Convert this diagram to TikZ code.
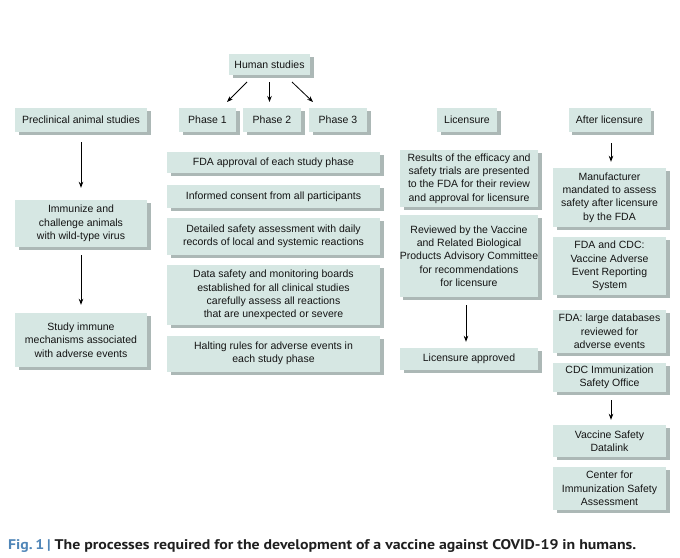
\documentclass[tikz,border=0pt]{standalone}
\usepackage{fontspec}
\usepackage{graphicx}
\setmainfont{Liberation Sans}
\newfontfamily\capfont{PT Sans}
\usetikzlibrary{shadows,arrows.meta,calc}
\definecolor{boxc}{RGB}{214,231,227}
\definecolor{shadc}{RGB}{172,184,182}
\definecolor{txtc}{RGB}{20,20,20}
\definecolor{figc}{RGB}{80,134,184}
\tikzset{
  box/.style={fill=boxc, draw=none, align=center, inner sep=0pt, text=txtc,
    font=\fontsize{10.5}{13.3}\selectfont,
    drop shadow={shadow xshift=3.5pt, shadow yshift=-3pt, fill=shadc, opacity=1}},
  arr/.style={draw=black, line width=0.8pt, -{Stealth[length=6pt,width=4.5pt]}}
}
\begin{document}
\begin{tikzpicture}[x=1pt,y=-1pt]
\useasboundingbox[fill=white] (0,0) rectangle (680,557);

% headers
\node[box, minimum width=81pt, minimum height=21pt] (hum) at (269.5,64.5) {Human studies};
\node[box, minimum width=132pt, minimum height=24pt] (pre) at (81,120) {Preclinical animal studies};
\node[box, minimum width=57pt, minimum height=24pt] (ph1) at (207.5,120) {Phase 1};
\node[box, minimum width=58pt, minimum height=24pt] (ph2) at (272,120) {Phase 2};
\node[box, minimum width=58pt, minimum height=24pt] (ph3) at (338,120) {Phase 3};
\node[box, minimum width=60pt, minimum height=24pt] (lic) at (467,120) {Licensure};
\node[box, minimum width=82pt, minimum height=24pt] (aft) at (609.5,120) {After licensure};

% preclinical column
\node[box, minimum width=132pt, minimum height=47pt] (imm) at (81,223.5) {Immunize and\\challenge animals\\with wild-type virus};
\node[box, minimum width=132pt, minimum height=54pt] (stu) at (81,340) {Study immune\\mechanisms associated\\with adverse events};

% phase column
\node[box, minimum width=213pt, minimum height=21pt] (fda) at (273.5,162.5) {FDA approval of each study phase};
\node[box, minimum width=213pt, minimum height=23pt] (inf) at (273.5,196.5) {Informed consent from all participants};
\node[box, minimum width=213pt, minimum height=37pt] (det) at (273.5,236.5) {Detailed safety assessment with daily\\records of local and systemic reactions};
\node[box, minimum width=213pt, minimum height=60pt] (dat) at (273.5,295) {Data safety and monitoring boards\\established for all clinical studies\\carefully assess all reactions\\that are unexpected or severe};
\node[box, minimum width=213pt, minimum height=36pt] (hal) at (273.5,353.5) {Halting rules for adverse events in\\each study phase};

% licensure column
\node[box, minimum width=138pt, minimum height=57pt] (res) at (469,178.5) {Results of the efficacy and\\safety trials are presented\\to the FDA for their review\\and approval for licensure};
\node[box, minimum width=138pt, minimum height=82pt] (rev) at (469,256) {Reviewed by the Vaccine\\and Related Biological\\Products Advisory Committee\\for recommendations\\for licensure};
\node[box, minimum width=138pt, minimum height=22pt] (app) at (469,359) {Licensure approved};

% after licensure column
\node[box, minimum width=113pt, minimum height=59pt] (man) at (609.5,197.5) {Manufacturer\\mandated to assess\\safety after licensure\\by the FDA};
\node[box, minimum width=113pt, minimum height=58pt] (vae) at (609.5,266) {FDA and CDC:\\Vaccine Adverse\\Event Reporting\\System};
\node[box, minimum width=113pt, minimum height=43pt] (ldb) at (609.5,331.5) {FDA: large databases\\reviewed for\\adverse events};
\node[box, minimum width=113pt, minimum height=29pt] (cdc) at (609.5,377.5) {CDC Immunization\\Safety Office};
\node[box, minimum width=113pt, minimum height=32pt] (vsd) at (609.5,441) {Vaccine Safety\\Datalink};
\node[box, minimum width=113pt, minimum height=43pt] (cis) at (609.5,488.5) {Center for\\Immunization Safety\\Assessment};

% arrows from human studies
\coordinate (h1a) at (247,82);  \coordinate (h1b) at (227,102);
\coordinate (h2a) at (269.5,82); \coordinate (h2b) at (269.5,102);
\coordinate (h3a) at (292,82);  \coordinate (h3b) at (313,102);
\draw[arr] (h1a) -- (h1b);
\draw[arr] (h2a) -- (h2b);
\draw[arr] (h3a) -- (h3b);

% vertical arrows
\draw[arr, shorten <=10pt, shorten >=12pt] (pre.south) -- (imm.north);
\draw[arr, shorten <=8pt, shorten >=8pt] (imm.south) -- (stu.north);
\draw[arr, shorten <=8pt, shorten >=6pt] ([xshift=-3pt]rev.south) -- ([xshift=-3pt]app.north);
\draw[arr, shorten <=11pt, shorten >=6pt] ([xshift=1.5pt]aft.south) -- ([xshift=1.5pt]man.north);
\draw[arr, shorten <=8pt, shorten >=5pt] ([xshift=1.5pt]cdc.south) -- ([xshift=1.5pt]vsd.north);

% caption
\node[anchor=base west, inner sep=0pt, font=\capfont\bfseries\fontsize{14}{16}\selectfont, text=black!88] (cap) at (8,549)
  {\resizebox{628pt}{\height}{\textcolor{figc}{Fig.\,1\,|} The processes required for the development of a vaccine against COVID-19 in humans.}};
\end{tikzpicture}
\end{document}
